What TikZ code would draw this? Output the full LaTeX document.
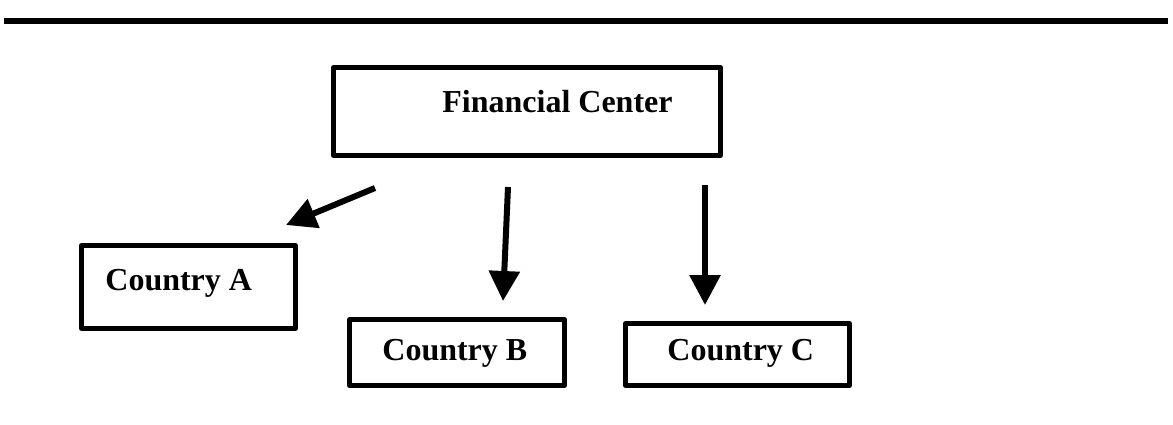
\documentclass[tikz,border=0pt]{standalone}
\usepackage{fontspec}
\setmainfont{Liberation Serif}
\usetikzlibrary{arrows.meta}

\tikzset{
	box/.style = {draw, line width=2.5pt, line join=round, inner sep=0pt},
	lbl/.style = {inner sep=0pt, anchor=base west, font=\fontsize{16}{19}\selectfont\bfseries},
	flow/.style = {line width=3pt, -{Triangle[width=15pt, length=15pt]}}
}

\begin{document}
\begin{tikzpicture}[x=0.5pt, y=-0.5pt]
			\useasboundingbox (0,0) rectangle (1173,424);
			\draw [line width=3pt] (4,21) to (1168,21);
			\node [box, minimum width=193.5pt, minimum height=44pt] (fc) at (527,111.5) {};
			\node [box, minimum width=107pt, minimum height=41.5pt] (ca) at (188.5,287) {};
			\node [box, minimum width=107.5pt, minimum height=33pt] (cb) at (457,352.5) {};
			\node [box, minimum width=112pt, minimum height=31pt] (cc) at (737.5,354.5) {};
			\node [lbl] (fctext) at (442,112) {Financial Center};
			\node [lbl] (catext) at (105,290) {Country A};
			\node [lbl] (cbtext) at (382,360) {Country B};
			\node [lbl] (cctext) at (667,360) {Country C};
			\coordinate (fcA) at (375,188);
			\coordinate (toA) at (286,225);
			\coordinate (fcB) at (508,187);
			\coordinate (toB) at (503,301);
			\coordinate (fcC) at (705,185);
			\coordinate (toC) at (705,305);
			\draw [flow] (fcA) -- (toA);
			\draw [flow] (fcB) -- (toB);
			\draw [flow] (fcC) -- (toC);
		\end{tikzpicture}
\end{document}
